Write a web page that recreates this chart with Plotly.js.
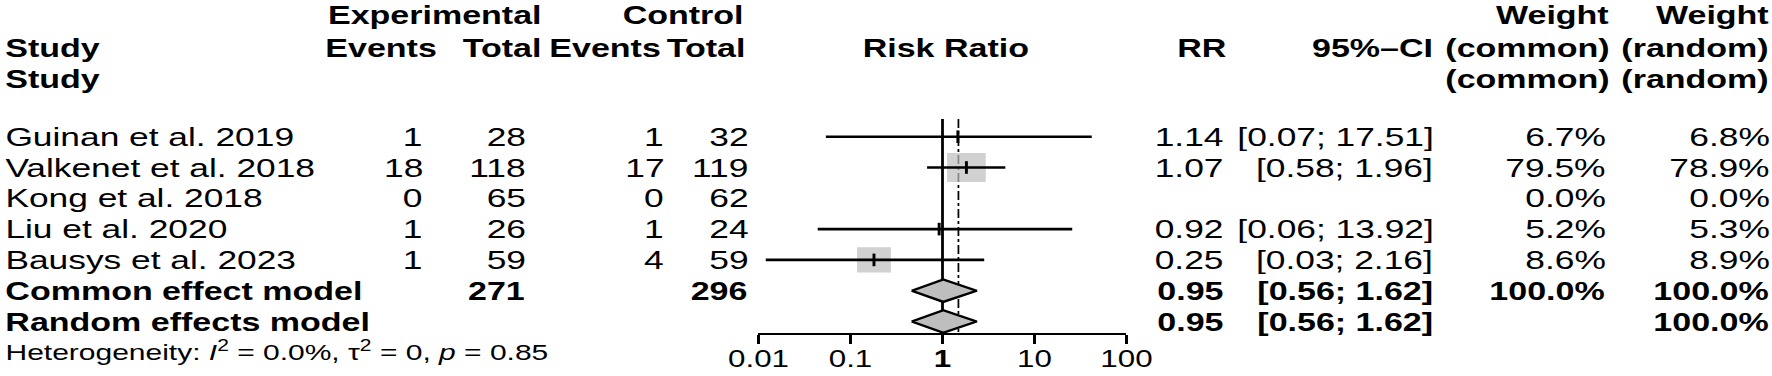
<!DOCTYPE html>
<html>
<head>
<meta charset="utf-8">
<script src="https://cdn.plot.ly/plotly-3.0.1.min.js"></script>
<style>
html,body{margin:0;padding:0;background:#fff;overflow:hidden;}
#chart{width:1329px;height:376px;transform:scale(1.33333,1);transform-origin:0 0;}
</style>
</head>
<body>
<div id="chart"></div>
<script>
// ---------- data ----------
const studies = ["Guinan et al. 2019", "Valkenet et al. 2018", "Kong et al. 2018", "Liu et al. 2020", "Bausys et al. 2023"];
const expEvents = [1, 18, 0, 1, 1];
const expTotal = [28, 118, 65, 26, 59];
const ctrlEvents = [1, 17, 0, 1, 4];
const ctrlTotal = [32, 119, 62, 24, 59];
const rrText = ["1.14", "1.07", "", "0.92", "0.25"];
const ciText = ["[0.07; 17.51]", "[0.58; 1.96]", "", "[0.06; 13.92]", "[0.03; 2.16]"];
const weightCommon = ["6.7%", "79.5%", "0.0%", "5.2%", "8.6%"];
const weightRandom = ["6.8%", "78.9%", "0.0%", "5.3%", "8.9%"];
// positions of the marks as drawn in the picture (risk ratio scale)
const estPlot = [1.47, 1.82, null, 0.92, 0.18];
const loPlot = [0.054, 0.68, null, 0.044, 0.012];
const hiPlot = [41.9, 4.82, null, 25.7, 2.84];
const pooledLabels = ["Common effect model", "Random effects model"];
const pooledTotals = [[271, 296], [null, null]];
const pooledRR = ["0.95", "0.95"];
const pooledCI = ["[0.56; 1.62]", "[0.56; 1.62]"];
const pooledWCommon = ["100.0%", ""];
const pooledWRandom = ["100.0%", "100.0%"];
const pooledEst = [1.02, 1.02];
const pooledLo = [0.463, 0.463];
const pooledHi = [2.35, 2.35];
const refLine = 1.49;
const tickVals = [0.01, 0.1, 1, 10, 100];
const tickText = ["0.01", "0.1", "<b>1</b>", "10", "100"];
const hetText = "Heterogeneity: <i>I</i><sup>2</sup> = 0.0%, τ<sup>2</sup> = 0, <i>p</i> = 0.85";

// ---------- layout helpers ----------
const W = 1772, H = 376;
const ROW0 = 136.7, ROWH = 30.8;
const rowOf = px => (px - ROW0) / ROWH;
const FONT = "Liberation Sans, Arial, Helvetica, sans-serif";
const FS = 26.5, FSB = 25.5;
const squareSize = [0, 29, 0, 0, 25.4];
const GRAY = "#bebebe";
const nS = studies.length;
const yTop = rowOf(119), yAxis = rowOf(334);
const rows = studies.map((s, i) => i);

const traces = [];
// reference lines
traces.push({x: [1, 1], y: [yTop, yAxis], mode: "lines", line: {color: "#000", width: 2.1}, hoverinfo: "skip"});
traces.push({x: [refLine, refLine], y: [yTop, yAxis], mode: "lines", line: {color: "#000", width: 1.3, dash: "dashdot"}, hoverinfo: "skip"});
// weight squares
traces.push({
  x: estPlot, y: rows, mode: "markers",
  marker: {symbol: "square", size: squareSize, color: GRAY, line: {width: 0}}, hoverinfo: "skip"
});
// CI lines
for (let i = 0; i < nS; i++) {
  if (estPlot[i] === null) continue;
  traces.push({x: [loPlot[i], hiPlot[i]], y: [i, i], mode: "lines", line: {color: "#000", width: 2.6}, hoverinfo: "skip"});
}
// point ticks
traces.push({
  x: estPlot, y: rows, mode: "markers",
  marker: {symbol: "line-ns", size: 9, line: {color: "#000", width: 2.2}}, hoverinfo: "skip"
});
// diamonds
const dh = 0.363;
pooledEst.forEach((e, k) => {
  const r = nS + k;
  traces.push({
    x: [pooledLo[k], e, pooledHi[k], e, pooledLo[k]],
    y: [r, r - dh, r, r + dh, r],
    mode: "lines", fill: "toself", fillcolor: GRAY,
    line: {color: "#000", width: 2.3}, hoverinfo: "skip"
  });
});

// ---------- text ----------
const ann = [];
function txt(xpx, row, text, anchor, bold, size) {
  ann.push({
    xref: "paper", yref: "y", x: xpx / W, y: row, text: bold ? "<b>" + text + "</b>" : text,
    xanchor: anchor, yanchor: "middle", showarrow: false, borderpad: 0,
    font: {family: FONT, size: size || (bold ? FSB : FS), color: "#000"}
  });
}
const rA = rowOf(15), rB = rowOf(47.5), rC = rowOf(79);
// headers
txt(543, rA, "Experimental", "right", true);
txt(745, rA, "Control", "right", true);
txt(1610, rA, "Weight", "right", true);
txt(1770, rA, "Weight", "right", true);
txt(4, rB, "Study", "left", true);
txt(439, rB, "Events", "right", true);
txt(542, rB, "Total", "right", true);
txt(662, rB, "Events", "right", true);
txt(746, rB, "Total", "right", true);
txt(946, rB, "Risk Ratio", "center", true);
txt(1228, rB, "RR", "right", true);
txt(1435, rB, "95%\u2013CI", "right", true);
txt(1610, rB, "(common)", "right", true);
txt(1770, rB, "(random)", "right", true);
txt(4, rC, "Study", "left", true);
txt(1610, rC, "(common)", "right", true);
txt(1770, rC, "(random)", "right", true);
// study rows
for (let i = 0; i < nS; i++) {
  txt(4, i, studies[i], "left", false);
  txt(424, i, String(expEvents[i]), "right", false);
  txt(527, i, String(expTotal[i]), "right", false);
  txt(665, i, String(ctrlEvents[i]), "right", false);
  txt(749, i, String(ctrlTotal[i]), "right", false);
  if (rrText[i]) txt(1225, i, rrText[i], "right", false);
  if (ciText[i]) txt(1435, i, ciText[i], "right", false);
  txt(1606, i, weightCommon[i], "right", false);
  txt(1770, i, weightRandom[i], "right", false);
}
// pooled rows
pooledLabels.forEach((lab, k) => {
  const r = nS + k;
  txt(4, r, lab, "left", true);
  if (pooledTotals[k][0] !== null) txt(527, r, String(pooledTotals[k][0]), "right", true);
  if (pooledTotals[k][1] !== null) txt(749, r, String(pooledTotals[k][1]), "right", true);
  txt(1225, r, pooledRR[k], "right", true);
  txt(1435, r, pooledCI[k], "right", true);
  if (pooledWCommon[k]) txt(1606, r, pooledWCommon[k], "right", true);
  if (pooledWRandom[k]) txt(1770, r, pooledWRandom[k], "right", true);
});
txt(4, rowOf(351), hetText, "left", false, 22.5);

const layout = {
  width: 1329, height: H,
  margin: {l: 0, r: 0, t: 0, b: 0, pad: 0},
  paper_bgcolor: "#fff", plot_bgcolor: "#fff",
  showlegend: false,
  xaxis: {
    type: "log", range: [-2, 2],
    domain: [758.5 / W, 1126.5 / W],
    anchor: "free", position: 1 - 334 / H,
    showline: true, linecolor: "#000", linewidth: 2.3,
    ticks: "outside", ticklen: 9, tickwidth: 2.2, tickcolor: "#000",
    ticklabelstandoff: -5,
    tickvals: tickVals, ticktext: tickText,
    tickfont: {family: FONT, size: 23.5, color: "#000"},
    showgrid: false, zeroline: false, fixedrange: true
  },
  yaxis: {
    range: [rowOf(H), rowOf(0)], visible: false, fixedrange: true,
    showgrid: false, zeroline: false
  },
  annotations: ann
};
Plotly.newPlot("chart", traces, layout, {displayModeBar: false, staticPlot: true});
</script>
</body>
</html>
